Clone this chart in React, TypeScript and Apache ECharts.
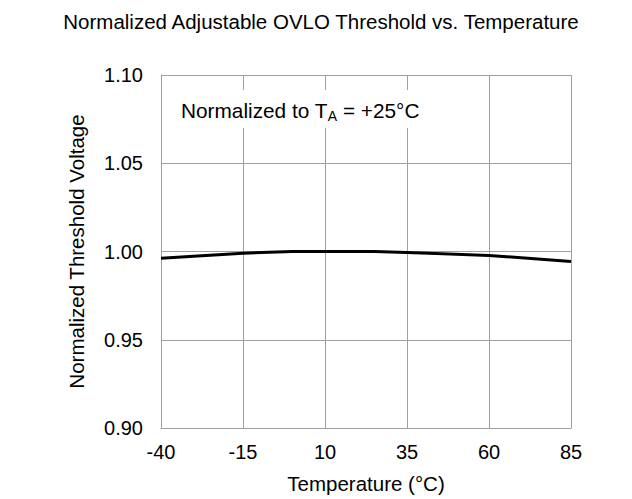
import React, { useEffect, useRef } from "react";
import * as echarts from "echarts";

const temps = [-40, -15, 0, 25, 35, 60, 85];
const values = [0.9962, 0.9990, 1.0, 1.0, 0.9995, 0.9978, 0.9944];

const FONT = "'Liberation Sans', Arial, sans-serif";
const GRID = "#a0a0a0";

export default function App() {
  const ref = useRef<HTMLDivElement>(null);
  useEffect(() => {
    const chart = echarts.init(ref.current!, null, { renderer: "svg" });
    chart.setOption({
      animation: false,
      backgroundColor: "#fff",
      title: {
        text: "Normalized Adjustable OVLO Threshold vs. Temperature",
        left: 316,
        textAlign: "center",
        top: 6,
        textStyle: { fontFamily: FONT, fontSize: 20.5, fontWeight: "normal", color: "#000" },
      },
      grid: { left: 161, right: 61, top: 75, bottom: 67 },
      xAxis: {
        type: "value",
        min: -40,
        max: 85,
        interval: 25,
        name: "Temperature (°C)",
        nameLocation: "middle",
        nameGap: 45,
        nameTextStyle: { fontFamily: FONT, fontSize: 20.5, color: "#000" },
        axisLine: { show: true, onZero: false, lineStyle: { color: GRID, width: 1 } },
        axisTick: { show: false },
        axisLabel: { fontFamily: FONT, fontSize: 20, color: "#000", margin: 14 },
        splitLine: { show: true, lineStyle: { color: GRID, width: 1 } },
      },
      yAxis: {
        type: "value",
        min: 0.9,
        max: 1.1,
        interval: 0.05,
        name: "Normalized Threshold Voltage",
        nameLocation: "middle",
        nameGap: 74,
        nameTextStyle: { fontFamily: FONT, fontSize: 20.5, color: "#000" },
        axisLine: { show: true, onZero: false, lineStyle: { color: GRID, width: 1 } },
        axisTick: { show: false },
        axisLabel: {
          fontFamily: FONT,
          fontSize: 20,
          color: "#000",
          margin: 18,
          formatter: (v: number) => v.toFixed(2),
        },
        splitLine: { show: true, lineStyle: { color: GRID, width: 1 } },
      },
      graphic: [
        {
          type: "rect",
          shape: { x: 162, y: 90, width: 270, height: 38 },
          style: { fill: "#fff" },
          z: 10,
        },
        {
          type: "text",
          x: 181,
          y: 110,
          z: 11,
          style: {
            text: "{n|Normalized to T}{s|A}{n| = +25°C}",
            verticalAlign: "middle",
            rich: {
              n: { fontFamily: FONT, fontSize: 20.8, fill: "#000" },
              s: { fontFamily: FONT, fontSize: 14, fill: "#000", padding: [12, 0, 0, 0] },
            },
          },
        },
      ],
      series: [
        {
          type: "line",
          data: temps.map((t, i) => [t, values[i]]),
          showSymbol: false,
          lineStyle: { color: "#000", width: 3 },
          smooth: false,
          z: 3,
        },
      ],
    });
    return () => chart.dispose();
  }, []);
  return (
    <div
      ref={ref}
      style={{ position: "absolute", left: 0, top: 0, width: 632, height: 499 }}
    />
  );
}
